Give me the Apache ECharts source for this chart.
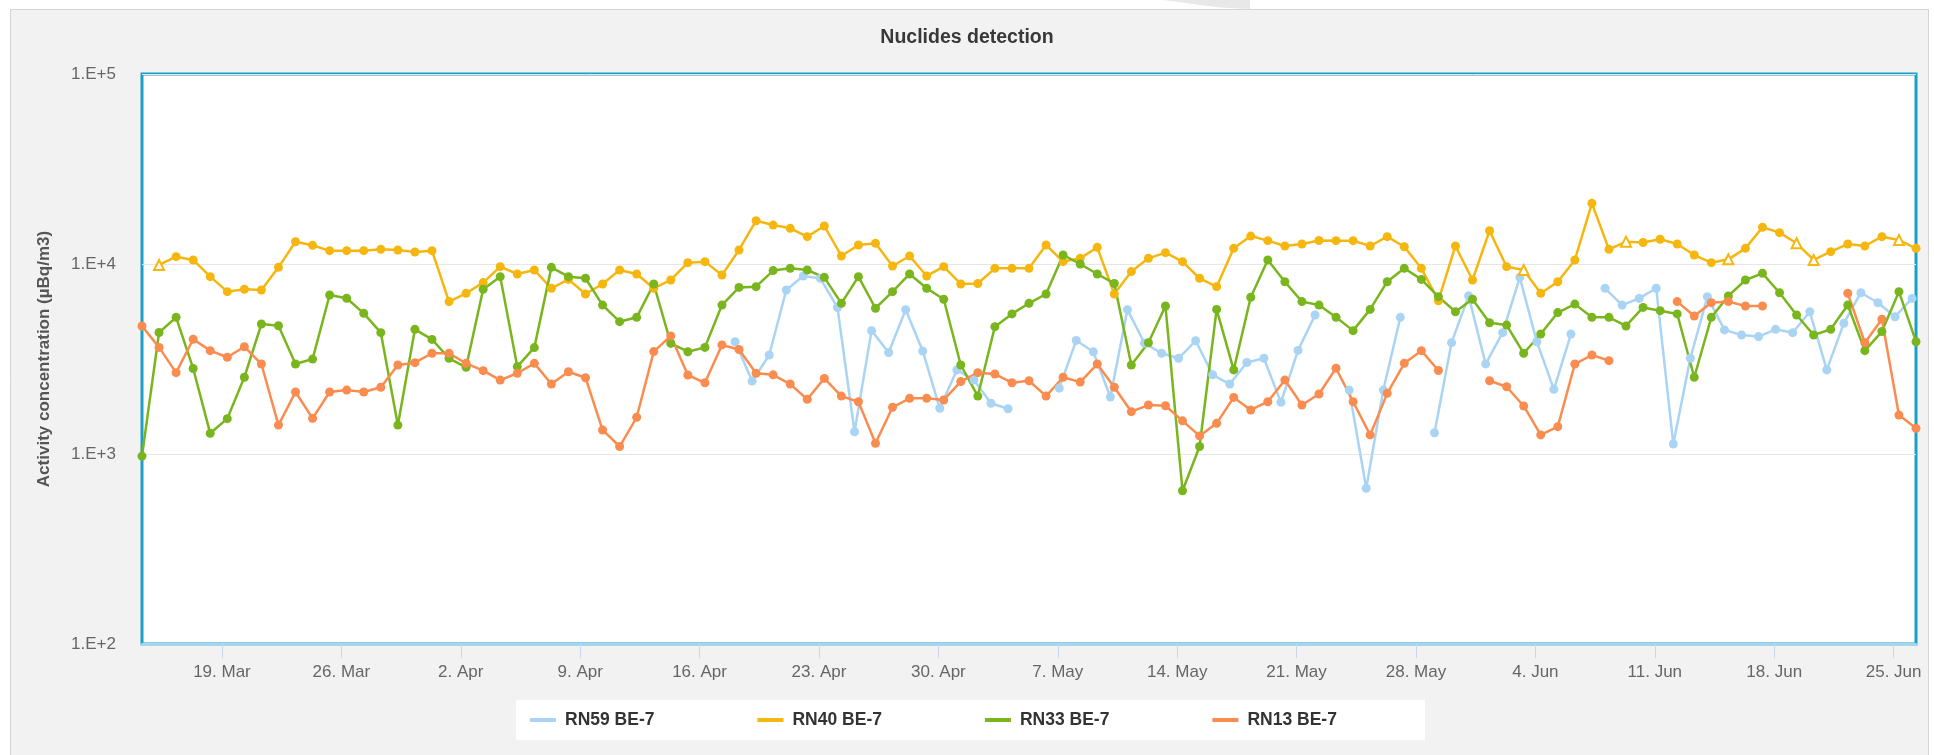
<!DOCTYPE html>
<html>
<head>
<meta charset="utf-8">
<script src="https://cdn.jsdelivr.net/npm/echarts@6/dist/echarts.min.js"></script>
<style>
  html, body { margin: 0; padding: 0; background: #ffffff; }
  #chart { width: 1934px; height: 755px; }
</style>
</head>
<body>
<div id="chart"></div>
<script>
// ---- data ----
const firstDay = [2018, 2, 14];          // 14 Mar 2018, first sampling day
const dayCount = 105;                    // daily samples, 14 Mar .. 26 Jun
const seriesNames = ['RN59 BE-7', 'RN40 BE-7', 'RN33 BE-7', 'RN13 BE-7'];
const stopHours = [2, 7.5, 7.5, 7.5];    // collection stop hour for each station

const rn59 = [
  null,null,null,null,null,null,null,null,null,null,
  null,null,null,null,null,null,null,null,null,null,
  null,null,null,null,null,null,null,null,null,null,
  null,null,null,null,null,3900,2420,3320,7300,8650,
  8400,5900,1310,4460,3420,5750,3480,1740,2770,2450,
  1850,1730,null,null,2220,3960,3450,1995,5750,3830,
  3390,3190,3945,2610,2335,3030,3190,1870,3510,5390,
  null,2170,660,2170,5240,null,1294,3855,6800,2980,
  4350,8510,3900,2190,4280,null,7450,6080,6590,7450,
  1129,3190,6730,4500,4230,4150,4530,4350,5610,2770,
  4880,7060,6250,5280,6590
];
const rn40 = [
  null,9880,10930,10500,8580,7150,7360,7300,9600,13100,
  12540,11750,11750,11750,11940,11850,11560,11750,6340,7010,
  7980,9680,8860,9300,7450,8300,6950,7850,9300,8860,
  7450,8240,10160,10290,8750,11850,16900,16030,15410,13930,
  15850,11020,12590,12850,9760,11020,8650,9680,7850,7900,
  9490,9490,9490,12590,10290,10710,12240,6950,9120,10710,
  11470,10290,8410,7600,12090,14030,13270,12440,12740,13300,
  13270,13270,12440,13930,12330,9490,6410,12440,8240,14970,
  9680,9300,7010,8070,10500,20850,11940,13110,12970,13490,
  12740,11150,10160,10580,12090,15600,14620,12850,10500,11610,
  12740,12440,13930,13370,12090
];
// RN40 samples drawn with the open-triangle marker
const rn40Flagged = [1, 81, 87, 93, 97, 98, 103];
const rn33 = [
  975,4360,5240,2820,1285,1535,2535,4830,4730,2975,
  3160,6870,6600,5500,4350,1420,4530,4010,3190,2860,
  7360,8580,2885,3630,9600,8580,8410,6080,4970,5240,
  7850,3820,3455,3640,6080,7530,7600,9230,9490,9300,
  8510,6210,8580,5850,7150,8860,7450,6520,2940,2018,
  4680,5460,6210,6950,11150,10000,8860,7900,2940,3850,
  6010,641,1095,5770,2770,6680,10500,8070,6340,6080,
  5240,4460,5770,8070,9490,8300,6730,5610,6520,4910,
  4770,3390,4280,5550,6150,5240,5240,4720,5910,5680,
  5460,2535,5240,6790,8240,8930,7060,5390,4230,4530,
  6080,3500,4410,7150,3900
];
const rn13 = [
  4720,3640,2680,4020,3500,3230,3670,2975,1420,2120,
  1540,2120,2170,2120,2245,2940,3025,3390,3390,3000,
  2745,2450,2660,3000,2335,2710,2520,1338,1095,1560,
  3460,4180,2605,2370,3750,3550,2660,2610,2335,1940,
  2500,2018,1884,1138,1762,1963,1963,1925,2405,2680,
  2635,2372,2430,2018,2535,2390,2975,2245,1670,1810,
  1795,1495,1245,1450,1985,1705,1884,2450,1810,2070,
  2825,1884,1260,2085,3000,3500,2750,null,null,2430,
  2260,1790,1260,1393,2975,3320,3100,null,null,null,
  6340,5320,6260,6340,6010,6010,null,null,null,null,
  7010,3850,5120,1603,1365
];
const seriesValues = [rn59, rn40, rn33, rn13];
const seriesColors = ['#a9d4f4', '#f5b70f', '#79b51c', '#fa8c4f'];

// weekly ticks (Mondays)
const tickLabels = ['19. Mar','26. Mar','2. Apr','9. Apr','16. Apr','23. Apr','30. Apr',
                    '7. May','14. May','21. May','28. May','4. Jun','11. Jun','18. Jun','25. Jun'];
const tickStart = [2018, 2, 19];         // date of the first tick
const yTickLabels = ['1.E+2', '1.E+3', '1.E+4', '1.E+5'];

// ---- build ----
const DAY = 86400000;
const t0 = Date.UTC(tickStart[0], tickStart[1], tickStart[2]);
function dayPos(i, hour) {
  return (Date.UTC(firstDay[0], firstDay[1], firstDay[2] + i) + hour * 3600000 - t0) / DAY;
}
const tickValues = tickLabels.map((_, k) => k * 7);

let xMin = Infinity, xMax = -Infinity;
const series = seriesValues.map((vals, s) => {
  const data = vals.map((v, i) => {
    const x = dayPos(i, stopHours[s]);
    if (v != null) { xMin = Math.min(xMin, x); xMax = Math.max(xMax, x); }
    if (v == null) return [x, '-'];
    if (s === 1 && rn40Flagged.indexOf(i) >= 0) {
      return { value: [x, v], symbol: 'triangle', symbolSize: 10,
               itemStyle: { color: '#ffffff', borderColor: seriesColors[s], borderWidth: 2 } };
    }
    return [x, v];
  });
  return {
    name: seriesNames[s],
    type: 'line',
    data: data,
    color: seriesColors[s],
    symbol: 'circle',
    symbolSize: 9,
    showSymbol: true,
    showAllSymbol: true,
    connectNulls: false,
    lineStyle: { width: 2.5, color: seriesColors[s] },
    itemStyle: { color: seriesColors[s] },
    emphasis: { disabled: true },
    animation: false
  };
});

const chart = echarts.init(document.getElementById('chart'), null, { renderer: 'canvas' });
chart.setOption({
  backgroundColor: '#f2f2f2',
  animation: false,
  title: {
    text: 'Nuclides detection',
    left: 'center',
    top: 23,
    textStyle: { fontFamily: 'Liberation Sans', fontSize: 19.5, fontWeight: 'bold', color: '#383838' }
  },
  legend: {
    data: seriesNames,
    left: 516,
    top: 700,
    backgroundColor: '#ffffff',
    padding: [11, 88, 11, 14],
    itemGap: 103,
    itemWidth: 26,
    itemHeight: 4,
    icon: 'rect',
    textStyle: { fontFamily: 'Liberation Sans', fontSize: 17.5, fontWeight: 'bold', color: '#333333',
                 padding: [0, 0, 0, 4] }
  },
  graphic: [
    { type: 'rect', shape: { x: 0, y: 0, width: 1934, height: 9 }, style: { fill: '#ffffff' }, silent: true },
    { type: 'rect', shape: { x: 0, y: 0, width: 10, height: 755 }, style: { fill: '#ffffff' }, silent: true },
    { type: 'rect', shape: { x: 1929, y: 0, width: 5, height: 755 }, style: { fill: '#ffffff' }, silent: true },
    { type: 'polygon', shape: { points: [[1163, 0], [1250, 0], [1250, 9], [1236, 8.6], [1218, 7.2], [1200, 5], [1182, 2.6]] },
      style: { fill: '#e8e8e8' }, silent: true },
    { type: 'polyline', shape: { points: [[10.5, 755], [10.5, 9.5], [1928.5, 9.5], [1928.5, 755]] },
      style: { stroke: '#d4d4d4', lineWidth: 1, fill: null }, silent: true }
  ],
  grid: {
    left: 142, right: 18, top: 74, bottom: 111,
    show: true,
    backgroundColor: '#ffffff',
    borderColor: '#1aa0c8',
    borderWidth: 3
  },
  xAxis: {
    type: 'value',
    min: xMin,
    max: xMax,
    axisLine: { show: true, lineStyle: { color: '#a6d6ea', width: 3 } },
    axisTick: { show: true, customValues: tickValues, length: 14, lineStyle: { color: '#ccd6eb', width: 1 } },
    axisLabel: {
      customValues: tickValues,
      margin: 20,
      fontFamily: 'Liberation Sans', fontSize: 17, color: '#666666',
      formatter: v => tickLabels[Math.round(v / 7)] || ''
    },
    splitLine: { show: false }
  },
  yAxis: {
    type: 'log',
    logBase: 10,
    min: 100,
    max: 100000,
    name: 'Activity concentration (µBq/m3)',
    nameLocation: 'middle',
    nameRotate: 90,
    nameGap: 89,
    nameTextStyle: { fontFamily: 'Liberation Sans', fontSize: 17, fontWeight: 'bold', color: '#555555' },
    axisLine: { show: false },
    axisTick: { show: false },
    axisLabel: {
      margin: 26,
      fontFamily: 'Liberation Sans', fontSize: 17, color: '#666666',
      formatter: v => yTickLabels[Math.round(Math.log10(v)) - 2] || ''
    },
    splitLine: { show: true, lineStyle: { color: '#e6e6e6', width: 1 } }
  },
  series: series
});
</script>
</body>
</html>
